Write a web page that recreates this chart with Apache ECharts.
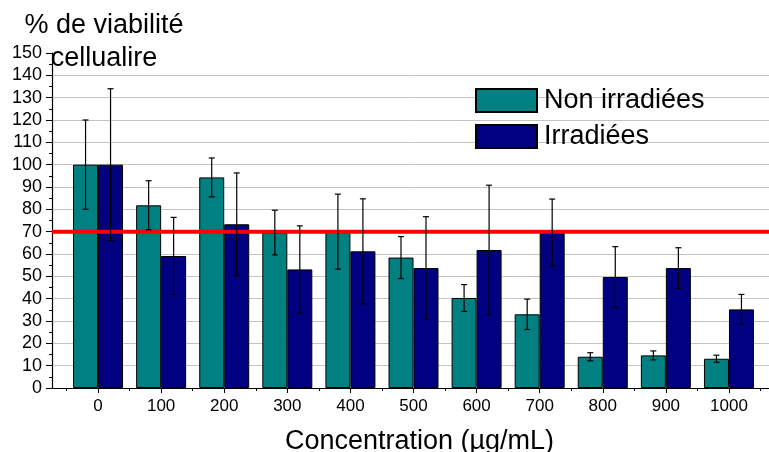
<!DOCTYPE html>
<html>
<head>
<meta charset="utf-8">
<script src="https://cdn.jsdelivr.net/npm/echarts@6/dist/echarts.min.js"></script>
<style>html,body{margin:0;padding:0;background:#fff}#c{width:769px;height:452px}</style>
</head>
<body>
<div id="c"></div>
<script>
const categories = ['0','100','200','300','400','500','600','700','800','900','1000'];
const nonIrr    = [100, 81.8, 94.3, 69.6, 70.0, 58.4, 40.3, 33.0, 14.0, 14.6, 13.1];
const nonIrrErr = [20, 11.0, 8.7, 10.0, 16.8, 9.4, 6.0, 6.8, 1.8, 2.0, 1.6];
const irr       = [100, 59.1, 73.3, 53.1, 61.2, 53.7, 61.8, 69.6, 49.7, 53.7, 35.2];
const irrErr    = [34, 17.3, 23.0, 19.5, 23.5, 23.0, 29.0, 15.0, 13.6, 9.1, 6.7];
const threshold = 70;
const yMin = 0, yMax = 150, yStep = 10;
const seriesNames = ['Non irradiées', 'Irradiées'];
const titleText = '% de viabilité\ncellualire';
const xName = 'Concentration (µg/mL)';

const FONT = 'Liberation Sans, Arial, sans-serif';
const BAR_W = 25;

function errData(vals, errs) {
  return vals.map((v, i) => [i, v - errs[i], v + errs[i]]);
}
function errRender(offset) {
  return function (params, api) {
    const i = api.value(0);
    const lo = api.coord([i, api.value(1)]);
    const hi = api.coord([i, api.value(2)]);
    const x = lo[0] + offset;
    const st = { stroke: '#000', lineWidth: 1.2 };
    return {
      type: 'group',
      children: [
        { type: 'line', shape: { x1: x, y1: lo[1], x2: x, y2: hi[1] }, style: st },
        { type: 'line', shape: { x1: x - 3, y1: hi[1], x2: x + 3, y2: hi[1] }, style: st },
        { type: 'line', shape: { x1: x - 3, y1: lo[1], x2: x + 3, y2: lo[1] }, style: st }
      ]
    };
  };
}

const chart = echarts.init(document.getElementById('c'), null, { renderer: 'canvas' });
chart.setOption({
  animation: false,
  backgroundColor: '#fff',
  textStyle: { fontFamily: FONT },
  graphic: [{
    type: 'text', x: 104, y: 9,
    style: { text: titleText, font: '27px ' + FONT, fill: '#000', textAlign: 'center', textVerticalAlign: 'top', lineHeight: 33 }
  }],
  legend: {
    data: seriesNames,
    orient: 'vertical',
    left: 475, top: 87,
    icon: 'rect',
    itemWidth: 61, itemHeight: 23, itemGap: 9,
    padding: 0,
    textStyle: { fontSize: 27, color: '#000', fontFamily: FONT, padding: [0, 0, 0, 2] }
  },
  grid: [
    { left: 66.5, right: 8.5, top: 53, bottom: 64, outerBoundsMode: 'none', containLabel: false },
    { left: 52, right: 0, top: 53, bottom: 64, outerBoundsMode: 'none', containLabel: false }
  ],
  xAxis: [
    { type: 'category', gridIndex: 0, data: categories, position: 'bottom',
      axisLine: { show: false }, axisLabel: { show: false },
      axisTick: { show: true, alignWithLabel: false, length: 3, lineStyle: { color: '#000' } },
      splitLine: { show: false } },
    { type: 'category', gridIndex: 0, data: categories, position: 'bottom',
      axisLine: { show: false },
      axisTick: { show: true, alignWithLabel: true, length: 5, lineStyle: { color: '#000' } },
      axisLabel: { fontSize: 17, color: '#000', margin: 10, fontFamily: FONT },
      name: xName, nameLocation: 'middle', nameGap: 40,
      nameTextStyle: { fontSize: 27, color: '#000', fontFamily: FONT, padding: [0, 0, 0, 12] },
      splitLine: { show: false } },
    { type: 'value', gridIndex: 1, min: 0, max: 1, position: 'bottom',
      axisLine: { show: true, lineStyle: { color: '#000', width: 1.2 } },
      axisTick: { show: false }, axisLabel: { show: false }, splitLine: { show: false } }
  ],
  yAxis: [
    { type: 'value', gridIndex: 0, min: yMin, max: yMax, interval: yStep, show: false, splitLine: { show: false } },
    { type: 'value', gridIndex: 1, min: yMin, max: yMax, interval: yStep, position: 'left',
      axisLine: { show: true, lineStyle: { color: '#000', width: 1.2 } },
      axisTick: { show: true, length: 6, lineStyle: { color: '#000' } },
      minorTick: { show: true, splitNumber: 2, length: 3, lineStyle: { color: '#000' } },
      axisLabel: { fontSize: 18, color: '#000', margin: 10, fontFamily: FONT },
      splitLine: { show: true, showMinLine: false, showMaxLine: false, lineStyle: { color: '#c4c4c4', width: 1 } } }
  ],
  series: [
    { name: seriesNames[0], type: 'bar', xAxisIndex: 0, yAxisIndex: 0, data: nonIrr,
      barWidth: BAR_W, barGap: '0%',
      itemStyle: { color: '#008080', borderColor: '#000', borderWidth: 1 } },
    { name: seriesNames[1], type: 'bar', xAxisIndex: 0, yAxisIndex: 0, data: irr,
      barWidth: BAR_W, barGap: '0%',
      itemStyle: { color: '#000080', borderColor: '#000', borderWidth: 1 } },
    { name: 'seuil', type: 'line', xAxisIndex: 2, yAxisIndex: 1,
      data: [[0, threshold], [1, threshold]], symbol: 'none', silent: true, z: 4,
      lineStyle: { color: '#ff0000', width: 4 } },
    { name: 'errNon', type: 'custom', xAxisIndex: 0, yAxisIndex: 0, z: 5, silent: true,
      data: errData(nonIrr, nonIrrErr), renderItem: errRender(-BAR_W / 2) },
    { name: 'errIrr', type: 'custom', xAxisIndex: 0, yAxisIndex: 0, z: 5, silent: true,
      data: errData(irr, irrErr), renderItem: errRender(BAR_W / 2) }
  ]
});
</script>
</body>
</html>
